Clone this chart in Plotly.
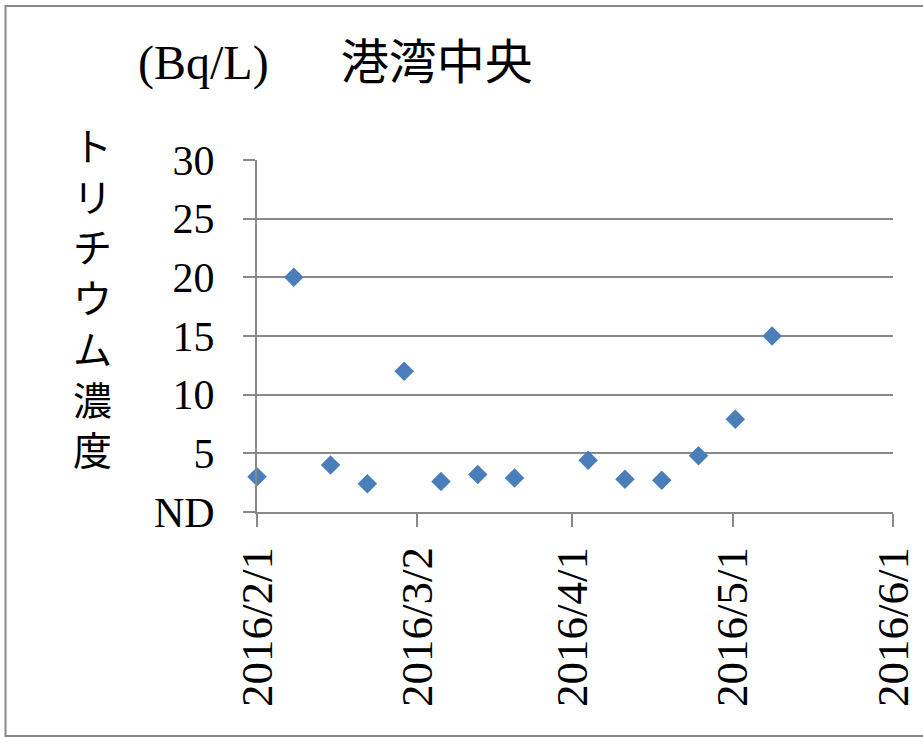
import plotly.graph_objects as go

dates = ["2016-02-01", "2016-02-08", "2016-02-15", "2016-02-22", "2016-02-29",
         "2016-03-07", "2016-03-14", "2016-03-21", "2016-04-04", "2016-04-11",
         "2016-04-18", "2016-04-25", "2016-05-02", "2016-05-09"]
values = [3.0, 20.0, 4.0, 2.4, 12.0, 2.6, 3.2, 2.9, 4.4, 2.8, 2.7, 4.8, 7.9, 15.0]

x_tickvals = ["2016-02-01", "2016-03-02 12:00", "2016-04-01",
              "2016-05-01 12:00", "2016-06-01"]
x_ticktext = ["2016/2/1", "2016/3/2", "2016/4/1", "2016/5/1", "2016/6/1"]
y_tickvals = [0, 5, 10, 15, 20, 25, 30]
y_ticktext = ["ND", "5", "10", "15", "20", "25", "30"]

title_text = "(Bq/L)\u3000\u2002港湾中央"
ytitle_text = "<br>".join(list("トリチウム濃度"))

W, H = 923, 743
L, R, T, B = 257, 893, 160, 512
PW, PH = R - L, B - T

def px(xp):
    return (xp - L) / PW

def py(yp):
    return (B - yp) / PH

GRAY = "#898989"
SERIF = "Liberation Serif, Noto Sans CJK JP, serif"
CJK = "Noto Sans CJK JP, sans-serif"

fig = go.Figure()
fig.add_trace(go.Scatter(
    x=dates, y=values, mode="markers",
    marker=dict(symbol="diamond", size=15, color="#4A7EBB",
                line=dict(width=0)),
    cliponaxis=False, showlegend=False, hoverinfo="skip",
))

annotations = [
    dict(text=title_text, xref="paper", yref="paper",
         x=px(136), y=py(63), xanchor="left", yanchor="middle",
         showarrow=False, font=dict(family=SERIF, size=48, color="black")),
    dict(text=ytitle_text, xref="paper", yref="paper",
         x=px(92), y=py(296), xanchor="center", yanchor="middle",
         showarrow=False, font=dict(family=CJK, size=39, color="black")),
]

fig.update_layout(
    width=W, height=H, autosize=False,
    margin=dict(l=L, r=W - R, t=T, b=H - B, pad=0, autoexpand=False),
    paper_bgcolor="white", plot_bgcolor="white",
    annotations=annotations,
    shapes=[dict(type="rect", xref="paper", yref="paper",
                 x0=px(5.5), x1=px(980), y0=py(736), y1=py(6),
                 line=dict(color=GRAY, width=2), layer="below")],
    xaxis=dict(
        type="date", range=["2016-02-01", "2016-06-01"],
        tickmode="array", tickvals=x_tickvals, ticktext=x_ticktext,
        tickangle=-90, showgrid=False, zeroline=False, automargin=False,
        showline=True, linecolor=GRAY, linewidth=2,
        ticks="outside", ticklen=13, tickwidth=2, tickcolor=GRAY,
        ticklabelstandoff=2,
        tickfont=dict(family=SERIF, size=45, color="black"),
    ),
    yaxis=dict(
        range=[0, 30], tickmode="array", tickvals=y_tickvals, ticktext=y_ticktext,
        showgrid=True, gridcolor=GRAY, gridwidth=2, zeroline=False, automargin=False,
        showline=True, linecolor=GRAY, linewidth=2,
        ticks="outside", ticklen=12, tickwidth=2, tickcolor=GRAY,
        ticklabelstandoff=20,
        tickfont=dict(family=SERIF, size=42, color="black"),
    ),
)

fig.write_html(
    "out.html",
    config={"responsive": False, "displayModeBar": False},
    post_script="document.body.style.margin='0';document.body.style.overflow='hidden';",
)
